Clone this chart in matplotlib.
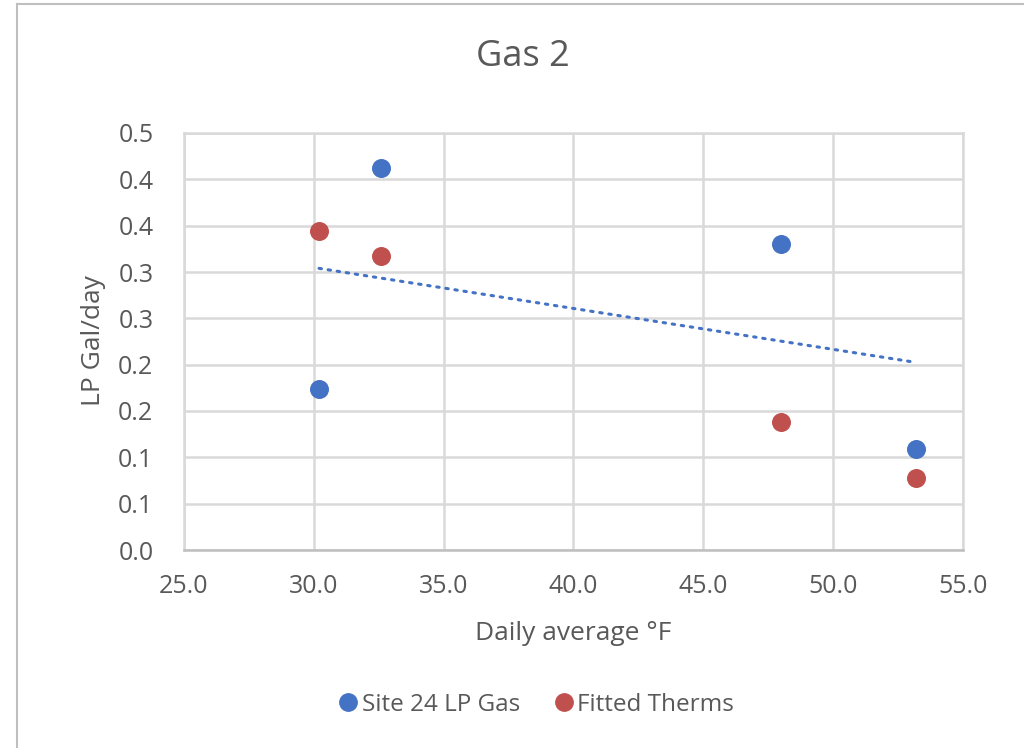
import numpy as np
import matplotlib.pyplot as plt
from matplotlib.lines import Line2D

# Daily average temperature (°F) and consumption (LP gal/day)
temps = [30.2, 32.6, 48.0, 53.2]
site_gas = [0.174, 0.412, 0.330, 0.109]
fitted_therms = [0.344, 0.317, 0.138, 0.078]

y_ticks = [0.0, 0.05, 0.10, 0.15, 0.20, 0.25, 0.30, 0.35, 0.40, 0.45]
y_tick_labels = ["0.0", "0.1", "0.1", "0.2", "0.2", "0.3", "0.3", "0.4", "0.4", "0.5"]
x_ticks = [25, 30, 35, 40, 45, 50, 55]
x_tick_labels = ["25.0", "30.0", "35.0", "40.0", "45.0", "50.0", "55.0"]

BLUE = "#4472C4"
RED = "#C0504D"
TEXT = "#595959"
GRID = "#D9D9D9"

plt.rcParams["font.family"] = ["Open Sans", "DejaVu Sans"]

W, H = 1024, 748
fig = plt.figure(figsize=(W / 100, H / 100), dpi=100)
ax = fig.add_axes([184 / W, 1 - 550 / H, 779 / W, 417 / H])

# chart area frame (left and top edges)
fig.add_artist(Line2D([17 / W, 17 / W], [0, 1 - 4 / H],
                      transform=fig.transFigure, color="#BFBFBF", lw=1.5))
fig.add_artist(Line2D([17 / W, 1], [1 - 4 / H, 1 - 4 / H],
                      transform=fig.transFigure, color="#BFBFBF", lw=1.5))

ax.set_xlim(25, 55)
ax.set_ylim(0, 0.45)
ax.set_xticks(x_ticks)
ax.set_xticklabels(x_tick_labels)
ax.set_yticks(y_ticks)
ax.set_yticklabels(y_tick_labels)
ax.tick_params(length=0, labelsize=18, labelcolor=TEXT)
ax.tick_params(axis="y", pad=22)
ax.tick_params(axis="x", pad=17)
ax.grid(True, color=GRID, lw=1.8)
ax.set_axisbelow(True)
for side, sp in ax.spines.items():
    sp.set_color(GRID)
    sp.set_linewidth(1.8)
ax.spines["bottom"].set_color("#BFBFBF")

ax.scatter(temps, site_gas, s=160, color=BLUE, zorder=3, label="Site 24 LP Gas")
ax.scatter(temps, fitted_therms, s=160, color=RED, zorder=3, label="Fitted Therms")

# linear trendline of the site series
slope, intercept = np.polyfit(temps, site_gas, 1)
tx = np.array([min(temps), max(temps)])
ax.plot(tx, slope * tx + intercept, color=BLUE, lw=2.2,
        linestyle=(0, (0.8, 2.2)), dash_capstyle="round", zorder=2)

fig.text(523 / W, 1 - 57 / H, "Gas 2", fontsize=26, color=TEXT,
         ha="center", va="center")
fig.text(573 / W, 1 - 633 / H, "Daily average °F", fontsize=19, color=TEXT,
         ha="center", va="center")
fig.text(93 / W, 1 - 341 / H, "LP Gal/day", fontsize=19, color=TEXT,
         ha="center", va="center", rotation=90)

handles = [
    Line2D([], [], marker="o", ls="none", color=BLUE, markersize=12.5),
    Line2D([], [], marker="o", ls="none", color=RED, markersize=12.5),
]
fig.legend(handles, ["Site 24 LP Gas", "Fitted Therms"], loc="center",
           bbox_to_anchor=(535 / W, 1 - 705 / H), ncol=2, frameon=False,
           fontsize=17.5, labelcolor=TEXT, handletextpad=0.05, columnspacing=1.3,
           handlelength=1.0)

fig.savefig("out.png", dpi=100, facecolor="white")
